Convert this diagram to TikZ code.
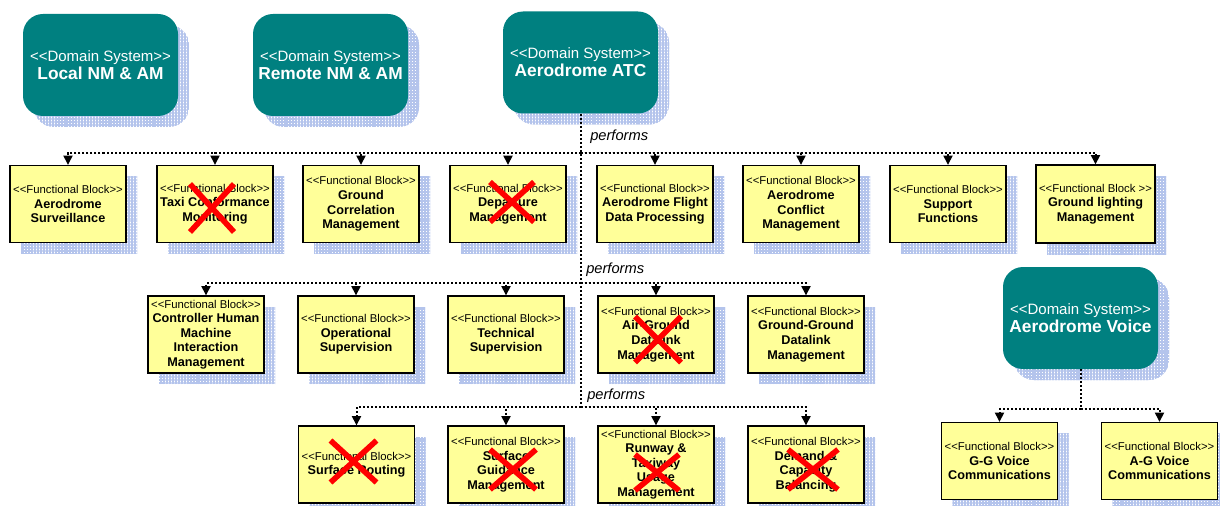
\documentclass[tikz,border=0pt]{standalone}
\usepackage{fontspec}
\setmainfont{Liberation Sans}
\usetikzlibrary{arrows.meta,shadows,patterns.meta}

\definecolor{dsteal}{RGB}{0,128,128}
\definecolor{fbyellow}{RGB}{255,255,153}
\definecolor{shadowblue}{RGB}{180,196,236}
\definecolor{xred}{RGB}{255,0,0}

% stereotype lines
\newcommand\fbst{{\fontsize{8.5}{10.9}\selectfont\mdseries <{}<Functional Block>{}>}}
\newcommand\fbstsp{{\fontsize{8.5}{10.9}\selectfont\mdseries <{}<Functional Block >{}>}}
\newcommand\dsst{{\fontsize{11.25}{13.5}\selectfont\mdseries <{}<Domain System>{}>}}

% red cross over a block: node, dx, dy, half width, half height
\newcommand\strikeblock[5]{%
  \draw[xmark] ([shift={(#2-#4,#3-#5)}]#1.center) -- ([shift={(#2+#4,#3+#5)}]#1.center)
               ([shift={(#2-#4,#3+#5)}]#1.center) -- ([shift={(#2+#4,#3-#5)}]#1.center);}

\begin{document}
\begin{tikzpicture}[x=0.75pt,y=-0.75pt,
  gridshadow/.style={general shadow={shadow xshift=8.25pt, shadow yshift=-8.25pt, fill=white,
     postaction={pattern={Lines[angle=0,distance=2.2pt,line width=1.5pt]},pattern color=shadowblue},
     postaction={pattern={Lines[angle=90,distance=2.2pt,line width=1.5pt]},pattern color=shadowblue}}},
  dsys/.style={gridshadow, fill=dsteal, rounded corners=15pt, minimum width=116.25pt,
     minimum height=76.5pt, inner sep=0pt, align=center, text=white,
     font=\fontsize{13}{13.5}\selectfont\bfseries},
  fblock/.style={gridshadow, draw=black, line width=0.9pt, fill=fbyellow, minimum width=87pt,
     minimum height=57.75pt, inner sep=0pt, align=center,
     font=\fontsize{9.5}{10.9}\selectfont\bfseries},
  dep/.style={line width=1.5pt, dash pattern=on 1.5pt off 1.5pt},
  link/.style={dep, -{Triangle[width=6.75pt,length=7pt]}},
  perf/.style={font=\fontsize{11}{13}\selectfont\itshape, anchor=west, inner sep=0pt},
  xmark/.style={draw=xred, line width=4.2pt},
]
\useasboundingbox (0,0) rectangle (1220,506);

% domain systems
\node[dsys] (lnm) at (100.5,65)  {\dsst\\Local NM \& AM};
\node[dsys] (rnm) at (330.5,65)  {\dsst\\Remote NM \& AM};
\node[dsys] (atc) at (580.5,62.5) {\dsst\\Aerodrome ATC};
\node[dsys] (avo) at (1080.5,318) {\dsst\\Aerodrome Voice};

% first row of functional blocks
\node[fblock] (b11) at (68,204)  {\fbst\\Aerodrome\\Surveillance};
\node[fblock] (b12) at (215,204) {\fbst\\Taxi Conformance\\Monitoring};
\node[fblock] (b13) at (361,204) {\fbst\\Ground\\Correlation\\Management};
\node[fblock] (b14) at (508,204) {\fbst\\Departure\\Management};
\node[fblock] (b15) at (655,204) {\fbst\\Aerodrome Flight\\Data Processing};
\node[fblock] (b16) at (801,204) {\fbst\\Aerodrome\\Conflict\\Management};
\node[fblock] (b17) at (948,204) {\fbst\\Support\\Functions};
\node[fblock, minimum width=89.25pt, minimum height=58.5pt] (b18) at (1095.5,204) {\fbstsp\\Ground lighting\\Management};

% second row
\node[fblock] (b21) at (206,334.5) {\fbst\\Controller Human\\Machine\\Interaction\\Management};
\node[fblock] (b22) at (356,334.5) {\fbst\\Operational\\Supervision};
\node[fblock] (b23) at (506,334.5) {\fbst\\Technical\\Supervision};
\node[fblock] (b24) at (656,334.5) {\fbst\\Air-Ground\\Datalink\\Management};
\node[fblock] (b25) at (806,334.5) {\fbst\\Ground-Ground\\Datalink\\Management};

% third row
\node[fblock] (b31) at (356.5,464.5) {\fbst\\Surface Routing};
\node[fblock] (b32) at (506,464.5) {\fbst\\Surface\\Guidance\\Management};
\node[fblock] (b33) at (656,464.5) {\fbst\\Runway \&\\Taxiway\\Usage\\Management};
\node[fblock] (b34) at (806,464.5) {\fbst\\Demand \&\\Capacity\\Balancing};

% voice blocks
\node[fblock] (vgg) at (999.5,461)  {\fbst\\G-G Voice\\Communications};
\node[fblock] (vag) at (1159.5,461) {\fbst\\A-G Voice\\Communications};

% bus levels
\coordinate (busA) at (0,153);
\coordinate (busB) at (0,283);
\coordinate (busC) at (0,407);
\coordinate (busV) at (0,409);

% ATC trunk and its branches
\draw[dep] (atc.south) -- (atc.south |- busC);
\foreach \n in {b11,b12,b13,b14,b15,b16,b17,b18}
  \draw[link] (atc.south |- busA) -| (\n.north);
\foreach \n in {b21,b22,b23,b24,b25}
  \draw[link] (atc.south |- busB) -| (\n.north);
\foreach \n in {b31,b32,b33,b34}
  \draw[link] (atc.south |- busC) -| (\n.north);

% voice trunk and branches
\draw[dep] (avo.south) -- (avo.south |- busV);
\draw[link] (avo.south |- busV) -| (vgg.north);
\draw[link] (avo.south |- busV) -| (vag.north);

% relation labels
\node[perf] (pf1) at (590,137) {performs};
\node[perf] (pf2) at (586,270) {performs};
\node[perf] (pf3) at (587,396) {performs};

% withdrawn blocks
\strikeblock{b12}{-3}{4}{22}{24}
\strikeblock{b14}{4}{-2}{22}{20}
\strikeblock{b24}{2}{5}{23}{23}
\strikeblock{b31}{-3}{-3}{23}{21}
\strikeblock{b32}{7}{5}{23}{20}
\strikeblock{b33}{1}{8}{22}{18}
\strikeblock{b34}{7}{5}{25}{20}
\end{tikzpicture}
\end{document}
